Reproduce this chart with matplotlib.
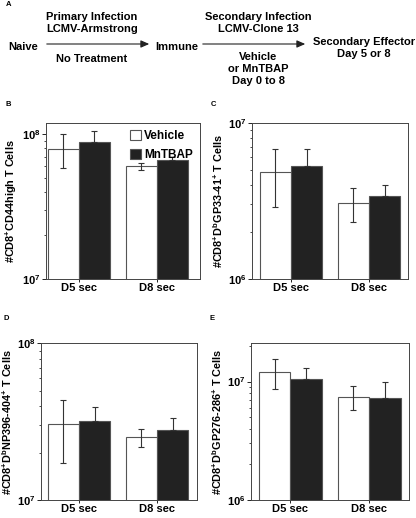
import numpy as np
import matplotlib
matplotlib.use("Agg")
import matplotlib.pyplot as plt
from matplotlib.ticker import NullFormatter, LogLocator

plt.rcParams['font.family'] = ['Liberation Sans', 'DejaVu Sans']
plt.rcParams['font.weight'] = 'bold'
plt.rcParams['mathtext.fontset'] = 'custom'
plt.rcParams['mathtext.rm'] = 'Liberation Sans:bold'
plt.rcParams['mathtext.bf'] = 'Liberation Sans:bold'
plt.rcParams['mathtext.it'] = 'Liberation Sans:bold'
plt.rcParams['mathtext.default'] = 'rm'

##### data #####
groups = ['D5 sec', 'D8 sec']
series = ['Vehicle', 'MnTBAP']

b_vehicle = [7.9e7, 6.0e7]
b_vehicle_err = [2.1e7, 0.3e7]
b_mntbap = [8.9e7, 6.6e7]
b_mntbap_err = [1.7e7, 0.4e7]

c_vehicle = [4.85e6, 3.05e6]
c_vehicle_err = [1.95e6, 0.75e6]
c_mntbap = [5.3e6, 3.4e6]
c_mntbap_err = [1.45e6, 0.57e6]

d_vehicle = [3.05e7, 2.52e7]
d_vehicle_err = [1.32e7, 0.34e7]
d_mntbap = [3.2e7, 2.8e7]
d_mntbap_err = [0.74e7, 0.54e7]

e_vehicle = [1.2e7, 7.45e6]
e_vehicle_err = [3.4e6, 1.7e6]
e_mntbap = [1.05e7, 7.2e6]
e_mntbap_err = [2.5e6, 2.65e6]

ylabels = [r'#CD8$^{+}$CD44high T Cells',
           r'#CD8$^{+}$D$^{b}$GP33-41$^{+}$ T Cells',
           r'#CD8$^{+}$D$^{b}$NP396-404$^{+}$ T Cells',
           r'#CD8$^{+}$D$^{b}$GP276-286$^{+}$ T Cells']

fs = 8.0
fig = plt.figure(figsize=(4.16, 5.18), dpi=100)

##### panel A : schema #####
def ftxt(x, y, s, **kw):
    fig.text(x / 416, 1 - y / 518, s, ha='center', va='center',
             fontsize=fs, fontweight='bold', **kw)

def farrow(x0, x1, y):
    fig.add_artist(matplotlib.patches.FancyArrowPatch(
        (x0 / 416, 1 - y / 518), (x1 / 416, 1 - y / 518),
        transform=fig.transFigure, arrowstyle='-|>,head_length=5,head_width=2.2',
        color='#222222', lw=0.8, mutation_scale=1))

fig.text(6 / 416, 1 - 5 / 518, 'A', fontsize=5.5, fontweight='bold', va='center')
ftxt(23, 47, 'Naive')
farrow(44, 152, 44)
ftxt(92, 17, 'Primary Infection')
ftxt(92, 29, 'LCMV-Armstrong')
ftxt(92, 59, 'No Treatment')
ftxt(177, 47, 'Immune')
farrow(200, 308, 44)
ftxt(258, 17, 'Secondary Infection')
ftxt(258, 29, 'LCMV-Clone 13')
ftxt(258, 57, 'Vehicle')
ftxt(258, 69, 'or MnTBAP')
ftxt(258, 81, 'Day 0 to 8')
ftxt(364, 42, 'Secondary Effector')
ftxt(364, 54, 'Day 5 or 8')

##### panels B-E #####
panels = [
    ('B', [0.1106, 0.4614, 0.370, 0.3017], (1e7, 1.2e8), (-0.42, 1.555),
     b_vehicle, b_vehicle_err, b_mntbap, b_mntbap_err, (6, 105)),
    ('C', [0.6058, 0.4614, 0.375, 0.3017], (1e6, 1e7), (-0.5, 1.5),
     c_vehicle, c_vehicle_err, c_mntbap, c_mntbap_err, (211, 105)),
    ('D', [0.0978, 0.0347, 0.375, 0.3025], (1e7, 1e8), (-0.49, 1.51),
     d_vehicle, d_vehicle_err, d_mntbap, d_mntbap_err, (4, 319)),
    ('E', [0.6034, 0.0347, 0.3786, 0.3025], (1e6, 2.1e7), (-0.5, 1.5),
     e_vehicle, e_vehicle_err, e_mntbap, e_mntbap_err, (210, 319)),
]

w = 0.4
x = np.arange(len(groups))
for i, (lab, pos, ylim, xlim, veh, veh_err, mn, mn_err, lpos) in enumerate(panels):
    ax = fig.add_axes(pos)
    ax.set_yscale('log')
    ax.bar(x - w / 2, veh, w, color='white', edgecolor='#555555', lw=0.8,
           label=series[0], zorder=2)
    ax.bar(x + w / 2, mn, w, color='#222222', edgecolor='#555555', lw=0.8,
           label=series[1], zorder=2)
    ax.errorbar(x - w / 2, veh, yerr=veh_err, fmt='none', ecolor='#333333',
                elinewidth=0.8, capsize=2.2, capthick=0.8, zorder=3)
    ax.errorbar(x + w / 2, mn, yerr=[np.zeros(len(mn)), mn_err], fmt='none',
                ecolor='#333333', elinewidth=0.8, capsize=2.2, capthick=0.8, zorder=3)
    ax.set_ylim(*ylim)
    ax.set_xlim(*xlim)
    ax.set_xticks(x)
    ax.set_xticklabels(groups, fontsize=8.0, fontweight='bold')
    ax.yaxis.set_major_locator(LogLocator(base=10))
    ax.yaxis.set_minor_locator(LogLocator(base=10, subs=np.arange(2, 10)))
    ax.yaxis.set_minor_formatter(NullFormatter())
    ax.tick_params(axis='y', which='major', labelsize=8, length=3, width=0.6, pad=1)
    ax.tick_params(axis='y', which='minor', length=1.5, width=0.5)
    ax.tick_params(axis='x', length=2.0, width=0.6, pad=1.2)
    for sp in ax.spines.values():
        sp.set_linewidth(0.7)
        sp.set_color('#444444')
    ax.set_ylabel(ylabels[i], fontsize=7.8, fontweight='bold', labelpad=2)
    fig.text(lpos[0] / 416, 1 - lpos[1] / 518, lab, fontsize=5.5,
             fontweight='bold', va='center')
    if lab == 'B':
        ax.legend(frameon=False, loc='upper right',
                  handlelength=0.9, handleheight=0.9, handletextpad=0.3,
                  borderaxespad=0.2, labelspacing=0.6,
                  prop={'weight': 'bold', 'size': 8.5})

fig.savefig('out.png', dpi=100)
